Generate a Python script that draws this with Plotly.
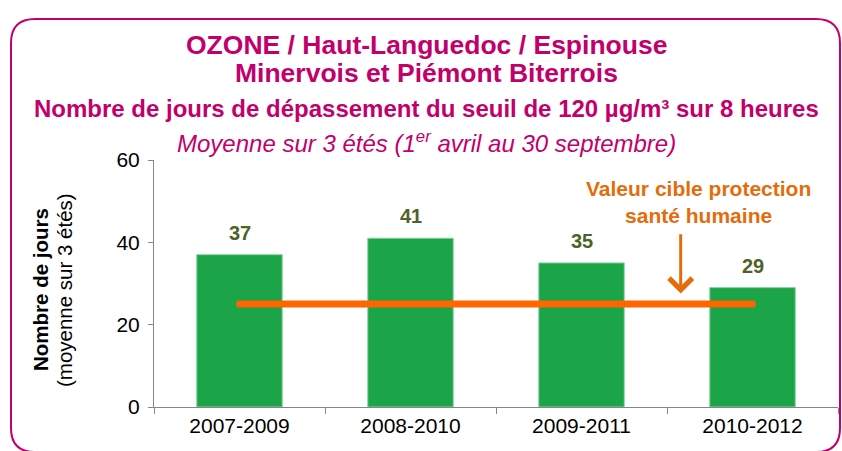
import plotly.graph_objects as go

periods = ["2007-2009", "2008-2010", "2009-2011", "2010-2012"]
jours = [37, 41, 35, 29]
valeur_cible = 25
y_ticks = [0, 20, 40, 60]

MAG = "#C2006B"
ORANGE_TXT = "#E46C0A"
ORANGE_LINE = "#FF6600"
GREEN = "#1BA548"
OLIVE = "#4F6228"
FONT = "Liberation Sans, Arial, sans-serif"

W, H = 842, 451
L, R, T, B = 154, 4, 160, 44
PW, PH = W - L - R, H - T - B


def px(x):
    return (x - L) / PW


def py(y):
    return (H - B - y) / PH


fig = go.Figure()
fig.add_trace(go.Bar(
    x=periods, y=jours,
    marker=dict(color=GREEN, line=dict(color="#8ED3A2", width=1)),
    width=0.5, hoverinfo="skip",
))
fig.add_trace(go.Scatter(
    x=[periods[0], periods[-1]], y=[valeur_cible, valeur_cible],
    mode="lines+markers",
    line=dict(color=ORANGE_LINE, width=7),
    marker=dict(color=ORANGE_LINE, size=7),
    hoverinfo="skip",
))

annotations = []
for p, v in zip(periods, jours):
    annotations.append(dict(
        x=p, y=v, xref="x", yref="y", text=f"<b>{v}</b>", showarrow=False,
        yshift=22, xanchor="center", yanchor="middle",
        font=dict(family=FONT, size=20, color=OLIVE),
    ))

# arrow
annotations.append(dict(
    x=2.58, y=27.6, ax=2.58, ay=42.3, xref="x", yref="y", axref="x", ayref="y",
    showarrow=True, arrowhead=4, arrowsize=1.5, arrowwidth=3, arrowcolor=ORANGE_TXT,
    text="",
))
annotations.append(dict(
    x=px(698), y=py(202), xref="paper", yref="paper", xanchor="center", yanchor="middle",
    text="<b>Valeur cible protection<br>santé humaine</b>", showarrow=False,
    font=dict(family=FONT, size=21, color=ORANGE_TXT), align="center",
))

titles = [
    ("<b>OZONE / Haut-Languedoc / Espinouse</b>", 45, 26.5),
    ("<b>Minervois et Piémont Biterrois</b>", 73, 26.5),
    ("<b>Nombre de jours de dépassement du seuil de 120 µg/m³ sur 8 heures</b>", 108, 24),
    ("<i>Moyenne sur 3 étés (1<sup>er</sup> avril au 30 septembre)</i>", 142, 24),
]
for txt, y, s in titles:
    annotations.append(dict(
        x=px(426), y=py(y), xref="paper", yref="paper", text=txt, showarrow=False,
        font=dict(family=FONT, size=s, color=MAG), xanchor="center", yanchor="middle",
    ))

annotations.append(dict(
    x=px(40), y=py(290), xref="paper", yref="paper", text="<b>Nombre de jours</b>",
    xanchor="center", yanchor="middle",
    showarrow=False, textangle=-90, font=dict(family=FONT, size=20.5, color="black"),
))
annotations.append(dict(
    x=px(64), y=py(290), xref="paper", yref="paper", text="(moyenne sur 3 étés)",
    xanchor="center", yanchor="middle",
    showarrow=False, textangle=-90, font=dict(family=FONT, size=20.5, color="black"),
))

# rounded border
x0, x1, y0, y1, r = px(11), px(840), py(19), py(452), 24
rx, ry = r / PW, r / PH
path = (f"M {x0+rx},{y0} L {x1-rx},{y0} Q {x1},{y0} {x1},{y0-ry} "
        f"L {x1},{y1+ry} Q {x1},{y1} {x1-rx},{y1} L {x0+rx},{y1} "
        f"Q {x0},{y1} {x0},{y1+ry} L {x0},{y0-ry} Q {x0},{y0} {x0+rx},{y0} Z")

fig.update_layout(
    width=W, height=H, margin=dict(l=L, r=R, t=T, b=B),
    paper_bgcolor="white", plot_bgcolor="white", showlegend=False,
    font=dict(family=FONT, size=21, color="black"),
    annotations=annotations,
    shapes=[dict(type="path", xref="paper", yref="paper", path=path,
                 line=dict(color=MAG, width=2), layer="below")],
    xaxis=dict(showline=True, linecolor="#868686", linewidth=1, ticks="outside",
               ticklen=6, tickcolor="#868686", tickson="boundaries", showgrid=False,
               tickfont=dict(size=21, color="black"), range=[-0.5, 3.5]),
    yaxis=dict(range=[0, 60], tickvals=y_ticks, showline=True, linecolor="#868686",
               linewidth=1, ticks="outside", ticklen=5, tickcolor="#868686",
               showgrid=False, zeroline=False, tickfont=dict(size=21, color="black"),
               ticklabelstandoff=4),
)

fig.write_html("out.html")
